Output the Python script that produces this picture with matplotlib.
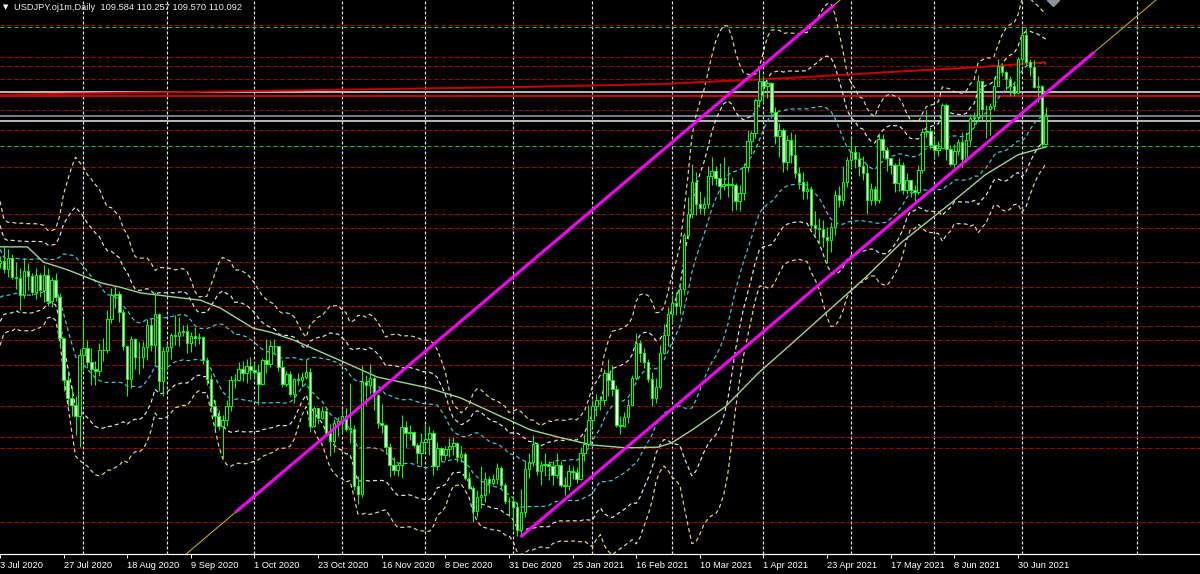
import numpy as np
import pandas as pd
import matplotlib
matplotlib.use('Agg')
import matplotlib.pyplot as plt

plt.rcParams['lines.scale_dashes'] = False

# USDJPY daily, 3 Jul 2020 .. 9 Jul 2021 (bar index 0..263)
closes = [
    107.50, 107.36, 107.56, 107.22, 107.20, 106.91, 107.33, 107.24, 106.96, 107.25,
    107.00, 107.26, 106.80, 107.17, 106.86, 106.13, 105.38, 105.06, 104.95, 104.74,
    105.84, 105.95, 105.70, 105.58, 105.54, 105.93, 105.92, 106.48, 106.91, 106.92,
    106.60, 106.00, 105.40, 106.12, 105.80, 105.80, 105.98, 106.36, 106.02, 106.56,
    105.37, 105.90, 105.97, 106.19, 106.18, 106.24, 106.26, 106.04, 106.17, 106.14,
    106.15, 105.74, 105.40, 104.93, 104.74, 104.56, 104.67, 104.93, 105.38, 105.39,
    105.58, 105.51, 105.64, 105.57, 105.53, 105.32, 105.74, 105.68, 105.99, 106.00,
    105.62, 105.31, 105.49, 105.14, 105.41, 105.39, 105.44, 105.53, 104.56, 104.88,
    104.71, 104.84, 104.44, 104.30, 104.63, 104.66, 104.74, 104.52, 104.52, 103.49,
    103.36, 105.36, 105.30, 105.43, 105.12, 104.62, 104.58, 104.19, 103.88, 103.79,
    103.88, 104.55, 104.44, 104.46, 104.23, 104.09, 104.28, 104.34, 104.44, 103.86,
    104.17, 104.05, 104.15, 104.22, 104.26, 104.02, 104.07, 103.64, 103.47, 103.05,
    103.31, 103.33, 103.63, 103.56, 103.63, 103.82, 103.51, 103.23, 103.23, 103.12,
    102.71, 103.04, 103.81, 103.93, 104.24, 103.76, 103.88, 103.89, 103.86, 103.70,
    103.87, 103.52, 103.50, 103.77, 103.75, 103.62, 104.09, 104.25, 104.67, 104.93,
    105.03, 105.03, 105.52, 105.39, 105.23, 104.58, 104.57, 104.73, 104.95, 105.42,
    106.05, 105.86, 105.70, 105.40, 105.06, 105.26, 105.87, 106.19, 106.57, 106.76,
    106.70, 107.01, 107.97, 108.35, 108.91, 108.53, 108.45, 108.52, 109.03, 109.12,
    108.99, 108.84, 108.88, 108.87, 108.87, 108.57, 108.72, 109.18, 109.64, 109.79,
    110.38, 110.72, 110.63, 110.68, 110.16, 109.73, 109.84, 109.28, 109.67, 109.39,
    109.07, 108.91, 108.76, 108.79, 108.15, 108.10, 108.08, 107.93, 107.88, 108.12,
    108.68, 108.59, 108.91, 109.31, 109.45, 109.33, 109.20, 109.08, 108.59, 108.79,
    108.60, 109.69, 109.48, 109.35, 109.21, 108.90, 109.22, 108.78, 108.95, 108.77,
    108.73, 109.13, 109.81, 109.82, 109.57, 109.48, 109.53, 110.28, 109.51, 109.24,
    109.46, 109.63, 109.33, 109.67, 110.06, 110.07, 110.71, 110.21, 110.21, 110.27,
    110.63, 110.99, 110.87, 110.76, 110.63, 110.51, 111.10, 111.53, 111.05, 110.96,
    110.61, 110.63, 109.60, 110.09]

highs = [
    107.60, 107.79, 107.72, 107.64, 107.49, 107.38, 107.56, 107.47, 107.30, 107.38,
    107.29, 107.43, 107.38, 107.23, 107.30, 106.94, 106.12, 105.51, 105.28, 105.11,
    105.94, 106.48, 106.10, 105.95, 105.73, 106.05, 106.13, 106.64, 107.02, 107.04,
    106.97, 106.65, 106.01, 106.17, 106.13, 106.07, 106.08, 106.47, 106.49, 106.96,
    106.59, 105.98, 106.05, 106.23, 106.55, 106.51, 106.37, 106.38, 106.25, 106.33,
    106.22, 106.17, 105.80, 105.50, 105.03, 104.85, 104.76, 105.03, 105.46, 105.49,
    105.70, 105.72, 105.76, 105.80, 105.71, 105.68, 105.78, 106.11, 106.10, 106.12,
    106.00, 105.75, 105.55, 105.54, 105.43, 105.52, 105.53, 105.75, 105.61, 104.93,
    104.89, 104.92, 104.88, 104.60, 104.70, 104.72, 104.87, 104.89, 105.34, 104.58,
    103.68, 105.65, 105.48, 105.68, 105.46, 105.14, 104.96, 104.61, 104.26, 104.01,
    103.90, 104.76, 104.65, 104.58, 104.47, 104.27, 104.45, 104.61, 104.57, 104.50,
    104.29, 104.20, 104.22, 104.35, 104.38, 104.28, 104.21, 104.11, 103.74, 103.50,
    103.42, 103.86, 103.75, 103.68, 103.72, 103.90, 103.86, 103.56, 103.30, 103.30,
    103.21, 103.44, 103.95, 104.09, 104.40, 104.29, 103.95, 104.08, 103.95, 103.95,
    104.09, 103.95, 103.66, 103.87, 103.85, 103.84, 104.20, 104.43, 104.94, 105.04,
    105.14, 105.11, 105.59, 105.77, 105.66, 105.29, 104.75, 104.82, 105.05, 105.47,
    106.22, 106.10, 105.95, 105.77, 105.53, 105.42, 106.02, 106.38, 106.69, 106.90,
    106.95, 107.12, 108.01, 108.64, 109.24, 109.09, 108.75, 108.65, 109.20, 109.36,
    109.20, 109.25, 109.36, 109.20, 109.00, 108.90, 108.86, 109.25, 109.85, 109.82,
    110.42, 110.97, 110.81, 110.71, 110.70, 110.26, 109.96, 109.87, 109.75, 109.80,
    109.77, 109.18, 109.10, 108.93, 108.85, 108.40, 108.27, 108.23, 108.12, 108.20,
    108.77, 108.84, 109.20, 109.36, 109.70, 109.56, 109.45, 109.38, 109.24, 108.90,
    108.85, 109.79, 109.78, 109.54, 109.34, 109.25, 109.34, 109.27, 109.08, 108.95,
    108.87, 109.22, 109.87, 110.20, 109.89, 109.70, 109.64, 110.33, 110.33, 109.58,
    109.59, 109.68, 109.80, 109.80, 110.13, 110.16, 110.82, 110.71, 110.29, 110.33,
    110.78, 111.11, 111.01, 110.90, 110.80, 110.68, 111.14, 111.66, 111.66, 111.10,
    111.09, 110.81, 110.65, 110.26]

lows = [
    107.39, 107.30, 107.22, 107.19, 107.01, 106.64, 106.84, 107.00, 106.90, 106.83,
    106.87, 106.78, 106.70, 106.68, 106.80, 105.96, 105.20, 104.93, 104.74, 104.40,
    104.19, 105.57, 105.60, 105.29, 105.30, 105.45, 105.72, 105.86, 106.40, 106.67,
    106.43, 105.93, 105.10, 105.25, 105.58, 105.50, 105.60, 105.75, 105.90, 105.68,
    105.20, 105.10, 105.59, 105.76, 106.02, 105.99, 106.17, 105.87, 105.89, 106.00,
    106.03, 105.67, 105.30, 104.87, 104.52, 104.49, 104.00, 104.57, 104.84, 105.25,
    105.37, 105.37, 105.34, 105.40, 105.40, 104.95, 105.31, 105.52, 105.62, 105.85,
    105.55, 105.27, 105.28, 105.11, 104.97, 105.30, 105.27, 105.40, 104.46, 104.55,
    104.60, 104.70, 104.41, 104.03, 104.10, 104.39, 104.44, 104.47, 104.27, 103.43,
    103.18, 103.30, 104.95, 105.14, 104.86, 104.54, 104.45, 104.07, 103.66, 103.69,
    103.68, 103.65, 104.18, 104.32, 104.20, 103.90, 103.86, 104.10, 104.06, 103.70,
    103.78, 103.95, 103.97, 104.02, 104.05, 103.93, 103.93, 103.60, 103.44, 102.86,
    102.95, 103.10, 103.21, 103.38, 103.52, 103.53, 103.45, 103.17, 102.96, 102.71,
    102.60, 102.59, 102.95, 103.65, 103.85, 103.70, 103.52, 103.67, 103.60, 103.52,
    103.65, 103.48, 103.33, 103.43, 103.62, 103.55, 103.60, 103.95, 104.20, 104.55,
    104.75, 104.85, 104.95, 105.10, 105.11, 104.55, 104.42, 104.55, 104.62, 104.95,
    105.38, 105.70, 105.60, 105.35, 104.92, 104.97, 105.22, 105.85, 106.00, 106.40,
    106.55, 106.57, 106.91, 107.90, 108.28, 108.33, 108.34, 108.33, 108.45, 108.87,
    108.87, 108.61, 108.77, 108.65, 108.40, 108.42, 108.40, 108.60, 109.09, 109.42,
    109.70, 110.26, 110.33, 110.41, 110.05, 109.60, 109.36, 109.10, 109.13, 109.25,
    108.98, 108.79, 108.62, 108.61, 108.07, 107.97, 107.81, 107.76, 107.47, 107.66,
    107.98, 108.47, 108.50, 108.82, 109.18, 109.16, 109.03, 108.96, 108.34, 108.50,
    108.50, 108.55, 109.35, 109.12, 109.05, 108.74, 108.75, 108.71, 108.70, 108.64,
    108.56, 108.70, 109.07, 109.72, 109.51, 109.32, 109.38, 109.52, 109.31, 109.20,
    109.18, 109.40, 109.18, 109.28, 109.55, 109.90, 109.99, 110.02, 109.70, 109.75,
    110.19, 110.62, 110.80, 110.56, 110.44, 110.44, 110.50, 111.00, 110.98, 110.80,
    110.59, 110.35, 109.53, 109.57]

first_open = 107.47
# closes 8 Jun .. 2 Jul 2020, only used to seed the Bollinger bands
pre_closes = [108.44, 107.77, 107.08, 106.87, 107.37, 107.33, 107.34, 106.97, 106.96, 106.87,
              106.90, 106.48, 107.03, 107.18, 107.21, 107.56, 107.93, 107.47, 107.50]

tick_bars = [0, 16, 32, 48, 64, 80, 96, 112, 128, 144, 160, 176, 192, 208, 224, 240, 256]
tick_labels = ['3 Jul 2020', '27 Jul 2020', '18 Aug 2020', '9 Sep 2020', '1 Oct 2020',
               '23 Oct 2020', '16 Nov 2020', '8 Dec 2020', '31 Dec 2020', '25 Jan 2021',
               '16 Feb 2021', '10 Mar 2021', '1 Apr 2021', '23 Apr 2021', '17 May 2021',
               '8 Jun 2021', '30 Jun 2021']
month_bars = [21, 42, 64, 86, 107, 129, 149, 169, 192, 214, 235, 257, 286]

# horizontal levels
red_levels = [111.72, 111.14, 110.98, 110.75, 110.20, 109.85, 109.19, 108.35, 108.09, 107.49,
              107.05, 106.70, 106.35, 106.10, 105.66, 104.92, 104.38, 104.18, 102.85]
green_levels = [111.67, 109.55]
grey_levels = [110.52, 110.00]
slate_level = 110.10
red_solid_level = 110.44

# slow moving average (light green)
ma_bars = [0.1, 6.9, 10.9, 17.0, 25.3, 30.3, 35.3, 42.1, 50.4, 55.4, 63.7, 68.0, 73.8,
           86.4, 94.9, 107.5, 115.8, 124.1, 133.4, 140.4, 148.9, 157.3, 165.5, 169.0,
           174.1, 182.4, 190.7, 198.7, 208.3, 217.6, 226.9, 239.5, 247.7, 256.0, 263.0]
ma_vals = [107.76, 107.76, 107.49, 107.35, 107.12, 107.04, 106.94, 106.88, 106.81, 106.67,
           106.31, 106.24, 106.10, 105.71, 105.44, 105.25, 105.07, 104.80, 104.50, 104.37,
           104.23, 104.18, 104.19, 104.27, 104.50, 104.91, 105.51, 106.01, 106.62, 107.21,
           107.85, 108.56, 109.04, 109.40, 109.54]

# long moving average (red)
red_ma_bars = [0.1, 65.5, 132.1, 165.5, 198.7, 222.6, 247.8, 262.8]
red_ma_vals = [110.47, 110.54, 110.61, 110.66, 110.77, 110.87, 110.97, 111.05]

# channel lines (bar, price)
upper_chan = [(59.2, 103.03), (209.8, 112.07)]
lower_chan = [(130.9, 102.59), (275.2, 111.23)]

title = 'USDJPY.oj1m,Daily  109.584 110.257 109.570 110.092'

# ---------------------------------------------------------------
n = len(closes)
bars = np.arange(n)
opens = [first_open] + closes[:-1]
o = np.array(opens); c = np.array(closes); h = np.array(highs); l = np.array(lows)

s = pd.Series(pre_closes + closes)
mid = s.rolling(20).mean().iloc[len(pre_closes):].values
sd = s.rolling(20).std(ddof=0).iloc[len(pre_closes):].values

px = 0.72  # one pixel in points at dpi 100
dash = (4 * px, 3 * px)

fig = plt.figure(figsize=(12, 5.74), dpi=100, facecolor='black')
ax = fig.add_axes([0, 20 / 574, 1, 554 / 574])
ax.set_facecolor('black')
ax.set_xlim(0.138, 301.8)
ax.set_ylim(102.287, 112.159)

for mb in month_bars:
    ax.axvline(mb, color='#e6e6e6', lw=1.2 * px, dashes=(3 * px, 2 * px), zorder=1)
for lv in red_levels:
    ax.axhline(lv, color='#b00000', lw=px, dashes=dash, zorder=1)
for lv in green_levels:
    ax.axhline(lv, color='#22c822', lw=px, dashes=dash, zorder=1)
for lv in grey_levels:
    ax.axhline(lv, color='#b4b4b4', lw=2 * px, zorder=1)
ax.axhline(slate_level, color='#6f7f8c', lw=2 * px, zorder=1)
ax.axhline(red_solid_level, color='#c80000', lw=2 * px, zorder=1)

# Bollinger bands 20 / 1, 2, 3
for k, col in [(1, '#3cccdc'), (2, '#e2e2e2'), (3, '#e6d688')]:
    ax.plot(bars, mid + k * sd, color=col, lw=1.2 * px, dashes=dash, zorder=2)
    ax.plot(bars, mid - k * sd, color=col, lw=1.2 * px, dashes=dash, zorder=2)

ax.plot(ma_bars, ma_vals, color='#9fd48e', lw=1.4 * px, zorder=3)
ax.plot(red_ma_bars, red_ma_vals, color='#c40000', lw=2 * px, zorder=3)

# candles
ax.vlines(bars, np.minimum(l, np.minimum(o, c)), np.maximum(h, np.maximum(o, c)),
          color='#00ff00', lw=px, zorder=4)
body_lo = np.minimum(o, c)
body_h = np.maximum(np.abs(c - o), 0.004)
face = ['black' if cc >= oo else 'white' for oo, cc in zip(o, c)]
ax.bar(bars, body_h, bottom=body_lo, width=0.62, color=face, edgecolor='#00ff00',
       linewidth=px, zorder=5)

# trend channel
(ux0, uy0), (ux1, uy1) = upper_chan
(lx0, ly0), (lx1, ly1) = lower_chan
ax.axline((ux0, uy0), (ux1, uy1), color='#d8b400', lw=px, zorder=6)
slope = (ly1 - ly0) / (lx1 - lx0)
ax.plot([lx1, 320], [ly1, ly1 + slope * (320 - lx1)], color='#d8b400', lw=px, zorder=6)
ax.plot([ux0, ux1], [uy0, uy1], color='#ff00ff', lw=3 * px, solid_capstyle='butt', zorder=7)
ax.plot([lx0, lx1], [ly0, ly1], color='#ff00ff', lw=3 * px, solid_capstyle='butt', zorder=7)

# grey marker at the top edge
ax.plot([264.85], [112.159], marker='D', ms=6.5, color='#8c919a', zorder=8)

# axes styling
for side in ['left', 'right', 'top']:
    ax.spines[side].set_visible(False)
ax.spines['bottom'].set_color('white')
ax.spines['bottom'].set_linewidth(1.2 * px)
ax.set_yticks([])
ax.set_xticks(tick_bars)
ax.set_xticklabels(tick_labels, ha='left', fontsize=6.7, color='white',
                   family=['Liberation Sans', 'DejaVu Sans'])
ax.tick_params(axis='x', length=4 * px, width=px, color='white', pad=2)

fig.text(3 / 1200, 1 - 7.5 / 574, '\u25bc', fontsize=5, color='white', va='center',
         family='DejaVu Sans')
fig.text(14 / 1200, 1 - 7.5 / 574, title, fontsize=6.7, color='#ececec', va='center',
         family=['Liberation Sans', 'DejaVu Sans'])

fig.savefig('out.png', dpi=100, facecolor='black')
